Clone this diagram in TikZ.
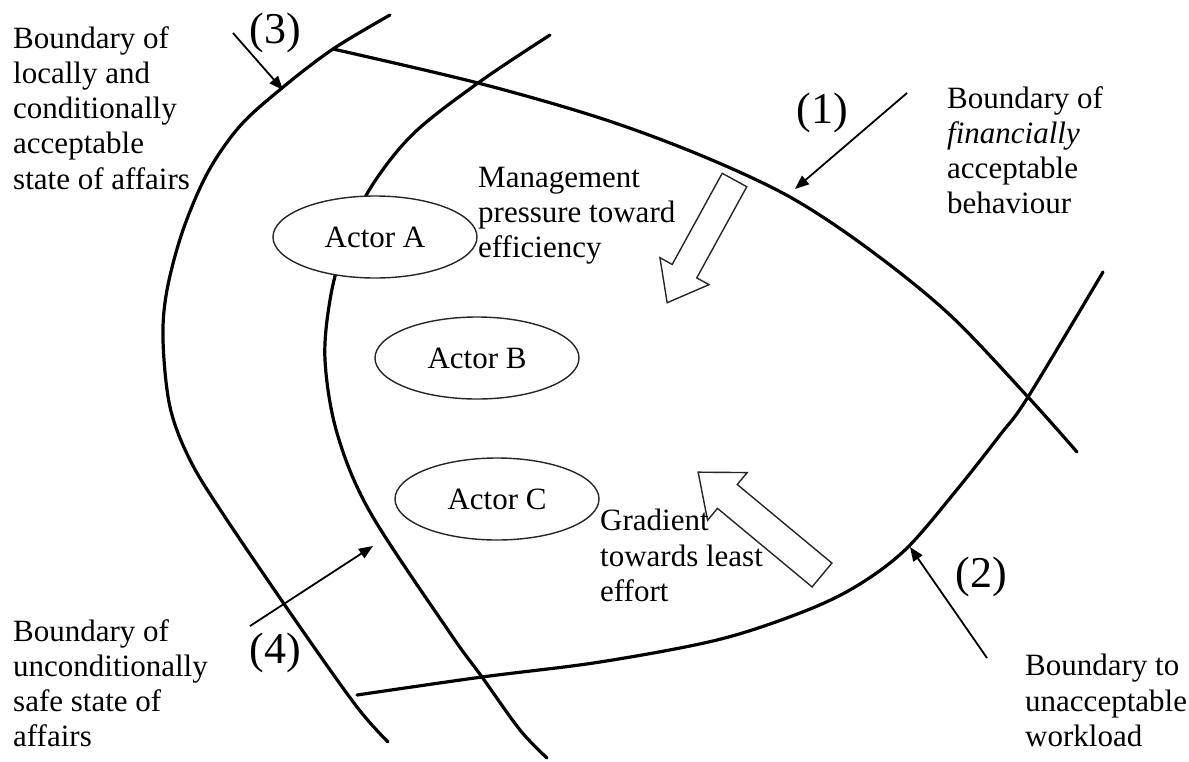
\documentclass[tikz,border=0pt]{standalone}
\usepackage{fontspec}
\setmainfont{Liberation Serif}
\usetikzlibrary{arrows.meta,shapes.geometric}
\newcommand\lblfont{\fontsize{31}{35.3}\selectfont}
\begin{document}
\begin{tikzpicture}[x=1pt,y=-1pt,
  bnd/.style={line width=3.2pt, line cap=round, line join=round},
  ptr/.style={line width=1.8pt, -{Triangle[length=14pt,width=11pt]}},
  actor/.style={ellipse, draw=black!85, line width=1.4pt, fill=white, minimum width=204pt, minimum height=82pt, inner sep=0pt, font=\lblfont},
  lbl/.style={align=left, anchor=north west, inner sep=0pt, font=\lblfont},
  num/.style={inner sep=0pt, font=\fontsize{44}{48}\selectfont},
  hollow/.style={draw=black!85, line width=1.4pt, fill=white, line join=miter}
]
\useasboundingbox (0,0) rectangle (1189,761);

% boundaries
\draw[bnd] plot[smooth, tension=0.55] coordinates {(390,15) (333,49) (282,88) (240,126) (208,172) (183,230) (167,290) (163,340) (170,407) (190,460) (225,517) (300,627) (357,707) (388,742)};
\draw[bnd] plot[smooth, tension=0.55] coordinates {(550,35) (478,83) (412,135) (368,192) (343,250) (330,300) (325,360) (337,433) (370,512) (450,633) (482,677) (520,730) (547,758)};
\draw[bnd] plot[smooth, tension=0.55] coordinates {(333,49) (478,83) (600,118) (700,155) (790,197) (870,250) (950,315) (1028,397) (1077,452)};
\draw[bnd] plot[smooth, tension=0.55] coordinates {(357,695) (482,677) (600,662) (717,640) (800,613) (855,587) (905,550) (955,492) (1000,435) (1028,397) (1103,272)};

% actors
\node[actor] (A) at (375,237) {Actor A};
\node[actor] (B) at (477,358) {Actor B};
\node[actor] (C) at (497,499) {Actor C};

% hollow arrows
\draw[hollow, shift={(734.5,180)}, rotate=241.25] (0,-14) -- (104,-14) -- (104,-28) -- (140,0) -- (104,28) -- (104,14) -- (0,14) -- cycle;
\draw[hollow, shift={(822,575)}, rotate=140.3] (0,-15.5) -- (123,-15.5) -- (123,-31) -- (161,0) -- (123,31) -- (123,15.5) -- (0,15.5) -- cycle;

% texts
\node[lbl] (t3) at (13,26) {Boundary of\\locally and\\conditionally\\acceptable\\state of affairs};
\node[lbl] (tm) at (478,166.5) {Management\\pressure toward\\efficiency};
\node[lbl] (t1) at (947,86) {Boundary of\\\textit{financially}\\acceptable\\behaviour};
\node[lbl] (tg) at (600,509) {Gradient\\towards least\\effort};
\node[lbl] (t4) at (13,619) {Boundary of\\unconditionally\\safe state of\\affairs};
\node[lbl] (t2) at (1025,654) {Boundary to\\unacceptable\\workload};

% numbers
\node[num] (n3) at (275,33) {(3)};
\node[num] (n1) at (822,113) {(1)};
\node[num] (n2) at (981,577) {(2)};
\node[num] (n4) at (275,653) {(4)};

% pointers
\coordinate (a3s) at (233,33);  \coordinate (a3e) at (283,90);
\coordinate (a1s) at (907,93);  \coordinate (a1e) at (795,189);
\coordinate (a2s) at (987,658); \coordinate (a2e) at (910,547);
\coordinate (a4s) at (250,626); \coordinate (a4e) at (373,546);
\draw[ptr] (a3s) -- (a3e);
\draw[ptr] (a1s) -- (a1e);
\draw[ptr] (a2s) -- (a2e);
\draw[ptr] (a4s) -- (a4e);
\end{tikzpicture}
\end{document}
